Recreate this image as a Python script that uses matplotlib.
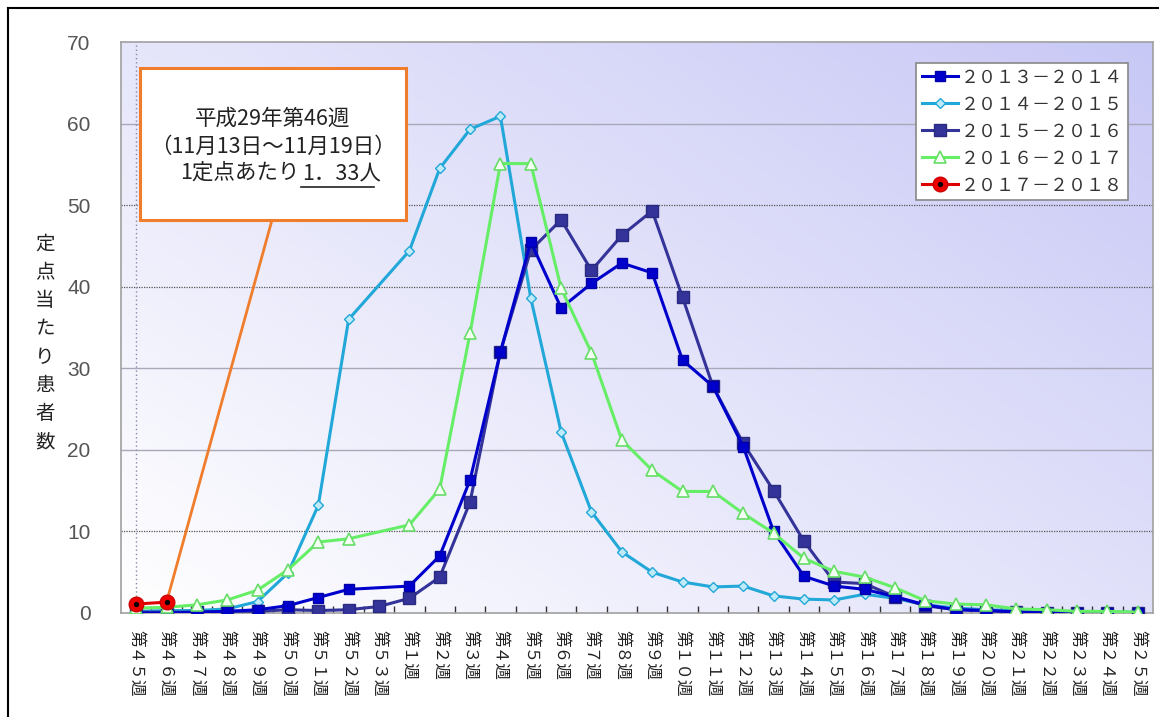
import numpy as np
import matplotlib
matplotlib.use("Agg")
import matplotlib.pyplot as plt
from matplotlib.patches import Rectangle
from matplotlib.lines import Line2D
from matplotlib.legend_handler import HandlerTuple

plt.rcParams['font.family'] = ['Noto Sans CJK JP', 'DejaVu Sans']

FW = str.maketrans("0123456789", "０１２３４５６７８９")
weeks = [f"第{w}週".translate(FW) for w in list(range(45, 54)) + list(range(1, 26))]

N = None
s2013 = [0.0, 0.0, 0.1, 0.2, 0.4, 0.9, 1.9, 2.9, N, 3.3, 7.0, 16.3, 32.0, 45.5, 37.4, 40.4,
         42.9, 41.7, 31.0, 27.8, 20.4, 10.0, 4.5, 3.3, 2.9, 2.0, 1.0, 0.4, 0.3, 0.15, 0.05, 0.0, 0.0, 0.0]
s2014 = [0.2, 0.3, 0.3, 0.5, 1.4, 4.9, 13.2, 36.0, N, 44.4, 54.5, 59.3, 60.9, 38.6, 22.2, 12.4,
         7.5, 5.0, 3.8, 3.2, 3.3, 2.1, 1.7, 1.6, 2.3, 1.8, 1.0, 0.6, 0.4, 0.3, 0.2, 0.1, 0.1, 0.1]
s2015 = [0.1, 0.1, 0.1, 0.2, 0.2, 0.4, 0.3, 0.4, 0.8, 1.8, 4.4, 13.6, 32.0, 44.5, 48.2, 42.0,
         46.3, 49.3, 38.7, 27.8, 20.8, 15.0, 8.8, 3.8, 3.6, 2.0, 0.9, 0.4, 0.3, 0.1, 0.05, 0.0, 0.0, 0.0]
s2016 = [0.6, 0.7, 1.0, 1.6, 2.8, 5.3, 8.7, 9.1, N, 10.8, 15.2, 34.3, 55.1, 55.1, 39.8, 31.9,
         21.2, 17.5, 14.9, 14.9, 12.2, 9.8, 6.7, 5.1, 4.4, 3.1, 1.5, 1.1, 1.0, 0.5, 0.4, 0.2, 0.2, 0.1]
s2017 = [1.1, 1.33]

labels = ["２０１３－２０１４", "２０１４－２０１５", "２０１５－２０１６", "２０１６－２０１７", "２０１７－２０１８"]
yticks = [0, 10, 20, 30, 40, 50, 60, 70]
ylabel = "定点当たり患者数"
note_lines = ["平成29年第46週", "（11月13日～11月19日）"]
note_third = "1定点あたり"
note_value = "1．33人"

W, H = 1159, 717
fig = plt.figure(figsize=(W / 100, H / 100), dpi=100)
fig.patch.set_facecolor('white')

fig.add_artist(Line2D([8 / W, 1], [1 - 8 / H, 1 - 8 / H], color='black', lw=1.5))
fig.add_artist(Line2D([8 / W, 8 / W], [0, 1 - 8 / H], color='black', lw=1.5))

L, R, T, B = 121, 1153, 42, 613
ax = fig.add_axes([L / W, 1 - B / H, (R - L) / W, (B - T) / H])

n = len(weeks)
x = np.arange(n)
ax.set_xlim(-0.5, n - 0.5)
ax.set_ylim(0, 70)

gx, gy = np.meshgrid(np.linspace(0, 1, 200), np.linspace(0, 1, 200))
t = (gx * 0.55 + gy * 0.45)
c0 = np.array([255, 255, 255]) / 255
c1 = np.array([200, 200, 246]) / 255
img = c0[None, None, :] * (1 - t[..., None]) + c1[None, None, :] * t[..., None]
ax.imshow(img, extent=[0, 1, 0, 1], transform=ax.transAxes, origin='lower',
          aspect='auto', zorder=0)

for v in yticks[1:-1]:
    if v in (10, 40, 50):
        ax.axhline(v, color='#555555', lw=0.9, ls=(0, (1, 1)), zorder=1)
    else:
        ax.axhline(v, color='#a8a8b8', lw=1.0, zorder=1)
ax.axvline(0, color='#8888aa', lw=1.0, ls=(0, (1, 2)), zorder=1)

for sp in ax.spines.values():
    sp.set_color('#a0a0a0')
    sp.set_linewidth(1.2)


def series(vals):
    xs = [i for i, v in zip(x, vals) if v is not None]
    ys = [v for v in vals if v is not None]
    return xs, ys


st2013 = dict(color='#0000cc', lw=2.2, marker='s', ms=7, mfc='#0000cc', mec='#0000aa')
st2014 = dict(color='#22a8d8', lw=2.2, marker='D', ms=5.5, mfc='#bfeaf8', mec='#22a8d8', mew=1.0)
st2015 = dict(color='#333399', lw=2.2, marker='s', ms=8.5, mfc='#333399', mec='#2a2a80')
st2016 = dict(color='#66ee66', lw=2.2, marker='^', ms=8, mfc='#f4fff4', mec='#66dd66', mew=1.2)
st2017 = dict(color='#dd0000', lw=2.2, marker='o', ms=10.5, mfc='#ee0000', mec='#cc0000')
st2017d = dict(ls='none', marker='o', ms=2.8, mfc='black', mec='black')

ax.plot(*series(s2013), **st2013, zorder=4)
ax.plot(*series(s2014), **st2014, zorder=3)
ax.plot(*series(s2015), **st2015, zorder=3.5)
ax.plot(*series(s2016), **st2016, zorder=4.5)
ax.plot(*series(s2017), **st2017, zorder=6)
ax.plot(*series(s2017), **st2017d, zorder=7)

ax.set_yticks(yticks)
ax.set_yticklabels([str(v) for v in yticks], fontsize=15, color='#555555',
                   family=['Liberation Sans', 'DejaVu Sans'])
ax.tick_params(axis='y', length=0, pad=22)
ax.set_xticks(x)
ax.set_xticklabels(weeks, rotation=270, fontsize=12, color='#222222', va='top', ha='center')
ax.tick_params(axis='x', which='major', length=0, pad=12)
ax.set_xticks(np.arange(n - 1) + 0.5, minor=True)
ax.tick_params(axis='x', which='minor', direction='in', length=5, color='#333333', width=1)

fig.text(45 / W, 1 - 343 / H, "\n".join(ylabel), fontsize=14, color='#222222',
         ha='center', va='center', linespacing=1.45)

h1 = Line2D([], [], **st2013)
h2 = Line2D([], [], **st2014)
h3 = Line2D([], [], **st2015)
h4 = Line2D([], [], **st2016)
h5a = Line2D([], [], **st2017)
h5b = Line2D([], [], **st2017d)
leg = ax.legend([h1, h2, h3, h4, (h5a, h5b)], labels,
                handler_map={tuple: HandlerTuple(ndivide=1)},
                loc='upper right', bbox_to_anchor=(1128 / W, 1 - 63 / H),
                bbox_transform=fig.transFigure, fontsize=13, frameon=True,
                fancybox=False, framealpha=1, edgecolor='#888888',
                handlelength=2.0, handletextpad=0.15, labelspacing=0.5,
                borderpad=0.3, borderaxespad=0)
leg.get_frame().set_linewidth(1.2)
for txt in leg.get_texts():
    txt.set_color('#333333')
leg.set_zorder(10)

bx0, bx1, by0, by1 = 140, 406, 68, 220


def fx(px):
    return (px - L) / (R - L)


def fy(py):
    return (B - py) / (B - T)


ax.annotate('', xy=(x[1], s2017[1]), xycoords='data',
            xytext=(fx(272), fy(by1)), textcoords='axes fraction',
            arrowprops=dict(arrowstyle='-', color='#f07d2c', lw=2.0, shrinkA=0, shrinkB=0),
            zorder=5)
ax.add_patch(Rectangle((fx(bx0), fy(by1)), fx(bx1) - fx(bx0), fy(by0) - fy(by1),
                       transform=ax.transAxes, facecolor='white', edgecolor='#f07d2c',
                       lw=2.2, zorder=8))
cx = fx(273)
fs = 15.5
ax.text(cx, fy(119), note_lines[0], transform=ax.transAxes, ha='center', va='center',
        fontsize=fs, color='#222222', zorder=9)
ax.text(cx, fy(147), note_lines[1], transform=ax.transAxes, ha='center', va='center',
        fontsize=fs, color='#222222', zorder=9)
ax.text(fx(299), fy(173), note_third, transform=ax.transAxes, ha='right', va='center',
        fontsize=fs, color='#222222', zorder=9)
ax.text(fx(302), fy(173), note_value, transform=ax.transAxes, ha='left', va='center',
        fontsize=fs, color='#222222', zorder=9)
ax.add_artist(Line2D([fx(301), fx(374)], [fy(187), fy(187)], transform=ax.transAxes,
                     color='#222222', lw=1.2, zorder=9))

fig.savefig('out.png', dpi=100, facecolor='white')
